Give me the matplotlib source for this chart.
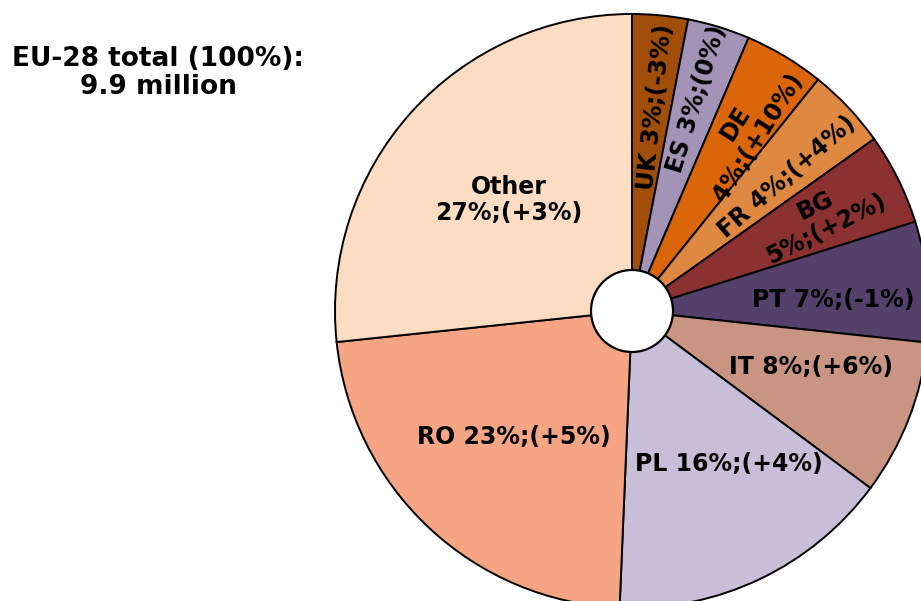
import numpy as np
import matplotlib
matplotlib.use("Agg")
import matplotlib.pyplot as plt

# share of EU-28 total (clockwise from 12 o'clock)
countries = ["UK", "ES", "DE", "FR", "BG", "PT", "IT", "PL", "RO", "Other"]
shares = [3.03, 3.39, 4.36, 4.39, 4.97, 6.56, 8.47, 15.5, 22.67, 26.67]
labels = ["UK 3%;(-3%)", "ES 3%;(0%)", "DE\n4%;(+10%)", "FR 4%;(+4%)",
          "BG\n5%;(+2%)", "PT 7%;(-1%)", "IT 8%;(+6%)", "PL 16%;(+4%)",
          "RO 23%;(+5%)", "Other\n27%;(+3%)"]
colors = ["#A04E0A", "#A393B7", "#DA6609", "#DE8842", "#8B3131",
          "#55406B", "#C99582", "#C8BED8", "#F5A484", "#FCDCC3"]
title = "EU-28 total (100%):\n9.9 million"

# label placement: distance from centre (fraction of radius), angle shift, rotate?
lab_r = [0.69, 0.745, 0.72, 0.69, 0.71, 0.68, 0.63, 0.61, 0.58, 0.56]
lab_shift = [-1, 0, -1.5, -2.5, 0, -2.5, 4, 7, 0, 0]
lab_rot = [True, True, True, True, True, False, False, False, False, False]

W, H = 921, 601
cx, cy = 632, H - 311
R = 297

fig = plt.figure(figsize=(W / 100, H / 100), dpi=100)
ax = fig.add_axes([0, 0, 1, 1])

wedges, _ = ax.pie(shares, colors=colors, startangle=90, counterclock=False,
                   radius=R, center=(cx, cy),
                   wedgeprops=dict(edgecolor="black", linewidth=1.4))

for w, lab, r, sh, rot in zip(wedges, labels, lab_r, lab_shift, lab_rot):
    mid = (w.theta1 + w.theta2) / 2.0 + sh
    x = cx + r * R * np.cos(np.radians(mid))
    y = cy + r * R * np.sin(np.radians(mid))
    ax.text(x, y, lab, ha="center", va="center", fontsize=17,
            fontweight="bold", rotation=mid if rot else 0,
            rotation_mode="anchor", multialignment="center", linespacing=1.1)

hole = plt.Circle((cx, cy), 41, facecolor="white", edgecolor="black",
                  linewidth=1.6, zorder=5)
ax.add_patch(hole)

ax.text(158, H - 73, title, ha="center", va="center", fontsize=19,
        fontweight="bold", linespacing=1.1)

ax.set_xlim(0, W)
ax.set_ylim(0, H)
ax.set_aspect("equal")
ax.axis("off")

fig.savefig("out.png", dpi=100)
